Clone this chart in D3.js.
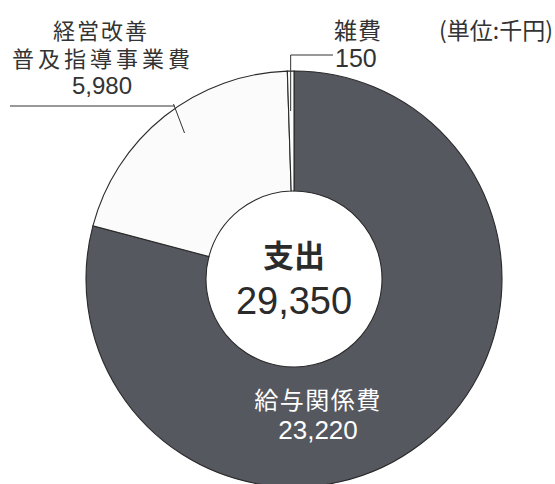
<!DOCTYPE html>
<html><head><meta charset="utf-8">
<script src="https://cdn.jsdelivr.net/npm/d3@7"></script>
<style>
html,body{margin:0;padding:0;background:#fff;}
svg{display:block;}
</style></head>
<body>
<svg id="c" width="555" height="484"></svg>
<script>
const categories = ["給与関係費", "経営改善 普及指導事業費", "雑費"];
const values = [23220, 5980, 150];
const total = 29350;
const centerTitle = "支出";
const unitLabel = "(単位:千円)";

const W = 555, H = 484, cx = 294, cy = 279, rOut = 208, rIn = 88;
const fills = ["#55585f", "#fbfbfb", "#fbfbfb"];
const jp = "'Noto Sans CJK JP','Noto Sans',sans-serif";
const num = "'Liberation Sans',Arial,sans-serif";
const fmt = d3.format(",");

const svg = d3.select("#c");
const g = svg.append("g").attr("transform", `translate(${cx},${cy})`);
const pie = d3.pie().sort(null).value(d => d)(values);
const arc = d3.arc().innerRadius(rIn).outerRadius(rOut);

g.selectAll("path.s").data(pie).join("path")
  .attr("d", arc).attr("fill", (d, i) => fills[i])
  .attr("stroke", "#2a2a2a").attr("stroke-width", 1.1);

// center text
const ct = g.append("text").attr("text-anchor", "middle").attr("fill", "#2b2b2b");
ct.append("tspan").attr("x", 0).attr("y", -12).attr("font-family", jp).attr("font-weight", 700)
  .attr("font-size", 31).text(centerTitle);
ct.append("tspan").attr("x", 0).attr("y", 35).attr("font-family", num)
  .attr("font-size", 38).text(fmt(total));

// 給与関係費 label (inside)
const t0 = svg.append("text").attr("text-anchor", "middle").attr("fill", "#fff");
t0.append("tspan").attr("x", 318).attr("y", 409).attr("font-family", jp)
  .attr("font-size", 24).attr("letter-spacing", 1.5).text(categories[0]);
t0.append("tspan").attr("x", 318).attr("y", 439).attr("font-family", num)
  .attr("font-size", 26).text(fmt(values[0]));

// 経営改善 label
const lab1 = categories[1].split(" ");
const t1 = svg.append("text").attr("text-anchor", "middle").attr("fill", "#333");
t1.append("tspan").attr("x", 101).attr("y", 39).attr("font-family", jp)
  .attr("font-size", 22).attr("letter-spacing", 2).text(lab1[0]);
t1.append("tspan").attr("x", 103).attr("y", 67).attr("font-family", jp)
  .attr("font-size", 22).attr("letter-spacing", 4).text(lab1[1]);
t1.append("tspan").attr("x", 102).attr("y", 94).attr("font-family", num)
  .attr("font-size", 24).text(fmt(values[1]));

// leader for 経営改善: point on outer arc at y=106
const ly = 106 - cy;
const lx = -Math.sqrt(rOut * rOut - ly * ly);
svg.append("path")
  .attr("d", `M10,106 L${cx + lx - 4},106 M${cx + lx - 5},104 L${cx + lx + 6},133`)
  .attr("fill", "none").attr("stroke", "#333").attr("stroke-width", 1);

// 雑費 label
const t2 = svg.append("text").attr("fill", "#333");
t2.append("tspan").attr("x", 358).attr("y", 39).attr("text-anchor", "middle").attr("font-family", jp)
  .attr("font-size", 23).attr("letter-spacing", 1).text(categories[2]);
t2.append("tspan").attr("x", 335).attr("y", 67).attr("text-anchor", "start").attr("font-family", num)
  .attr("font-size", 25).text(fmt(values[2]));
svg.append("text").attr("x", 553).attr("y", 39).attr("text-anchor", "end")
  .attr("font-family", jp).attr("font-size", 23).attr("fill", "#333").text(unitLabel);

// leader for 雑費: from mid of tiny slice up
const sm = pie[2];
const am = (sm.startAngle + sm.endAngle) / 2;
const sx = cx + Math.sin(am) * rOut, sy = cy - Math.cos(am) * rOut;
svg.append("path")
  .attr("d", `M${sx},${sy + 40} L${sx},55 L333,55`)
  .attr("fill", "none").attr("stroke", "#333").attr("stroke-width", 1);
</script>
</body></html>
